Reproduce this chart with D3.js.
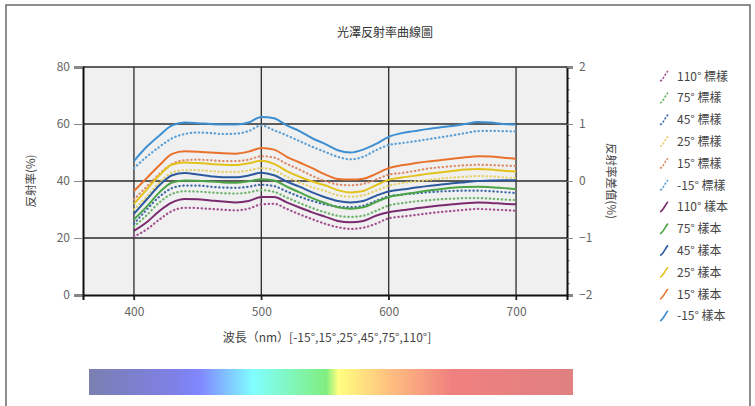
<!DOCTYPE html>
<html>
<head>
<meta charset="utf-8">
<script src="https://cdn.jsdelivr.net/npm/d3@7"></script>
<style>
  body { margin: 0; background: #fff; }
  text { font-family: "Noto Sans CJK TC", "Noto Sans", sans-serif; }
</style>
</head>
<body>
<svg id="chart" width="755" height="406"></svg>
<script>
// Wavelength samples (nm)
const wavelengths = [400,410,420,430,440,450,460,470,480,490,500,510,520,530,540,550,560,570,580,590,600,610,620,630,640,650,660,670,680,690,700];

// Reflectance (%) of the standard (標樣) at each measuring angle
const std_110 = [20.5,23,26.5,29.5,30.6,30.5,30.2,29.9,29.7,30.3,31.8,32,30.2,28.3,26.6,25,23.8,23.2,23.6,25,26.9,27.5,28,28.6,29.1,29.5,29.9,30.2,30,29.8,29.6];
const std_75  = [24,28,32.5,35.5,36.4,36.3,36,35.7,35.6,36,36.8,36.2,34.2,32.3,30.5,29,27.8,27.4,27.8,29.5,31.4,32.2,32.8,33.2,33.6,33.8,34,34,33.8,33.5,33.3];
const std_45  = [25,30,34.5,37.5,38.4,38.4,38,37.7,37.6,38,38.7,38.2,36.3,34.5,33,31.8,31,30.8,31.3,33,34.6,35.2,35.6,36,36.3,36.5,36.6,36.6,36.4,36.1,35.8];
const std_25  = [30,34.5,39.5,43,43.8,43.8,43.5,43.2,43.2,43.7,44.5,43.8,41.5,39.5,37.8,36.5,35,34.5,35,36.6,38.3,39.2,39.8,40.3,40.8,41.2,41.5,41.7,41.6,41.3,41];
const std_15  = [33.5,38,42.5,46,47.3,47.5,47.3,47,47,47.5,48.7,48.2,46,44,41.8,40,38.8,38.5,39,40.5,42.2,42.8,43.5,44.3,44.8,45.2,45.5,45.7,45.6,45.4,45.3];
const std_m15 = [44.5,48.5,52,55,56.5,57,56.8,56.5,56.6,57.5,59.5,57.8,56,54,52,50.2,48.5,47.6,48.5,50.8,52.6,53.3,53.9,54.6,55.3,56,56.8,57.5,57.6,57.5,57.4];

// Reflectance (%) of the sample (樣本) at each measuring angle
const smp_110 = [22.5,25.5,29.5,32.5,33.7,33.6,33.2,32.8,32.5,33,34.4,34.4,32.5,30.7,29,27.5,26,25.5,26,27.8,29,29.7,30.3,30.9,31.4,31.8,32.2,32.5,32.3,32,31.8];
const smp_75  = [26.5,31,36,39.5,40.2,40.1,39.8,39.5,39.4,39.9,40.6,40.2,38,36,34,32.3,30.8,30.3,30.8,32.6,34.4,35.2,35.9,36.6,37.1,37.6,37.9,38,37.8,37.5,37.2];
const smp_45  = [28.5,33.5,38.5,42,42.8,42.3,41.7,41.3,41.3,41.9,42.9,42,39.8,38,36,34.3,33,32.5,33,34.8,36.3,37,37.6,38.2,38.7,39.2,39.6,40,40.2,40.3,40.3];
const smp_25  = [32,37,42,45.8,46.5,46.3,46,45.7,45.6,46.2,47.1,46,43.5,41.5,39.8,38.5,36.8,36,36.5,38.5,40.4,41.2,41.8,42.5,43,43.5,44,44.2,44,43.6,43.3];
const smp_15  = [36.5,41,45.5,49.5,50.4,50.3,50,49.7,49.6,50.3,51.6,51,48.5,46.5,44.5,42.3,40.7,40.5,40.8,42.5,44.5,45.5,46.2,46.8,47.3,47.8,48.3,48.7,48.6,48.2,47.8];
const smp_m15 = [47,52,56,59.5,60.5,60.3,60,59.8,59.8,60.5,62.5,62,59.5,57.5,55,53,50.8,50,51,53,55.5,56.8,57.5,58.2,58.8,59.3,60,60.7,60.5,60,59.8];

// Legend labels, in legend order
const stdLabels = ["110° 標樣","75° 標樣","45° 標樣","25° 標樣","15° 標樣","-15° 標樣"];
const smpLabels = ["110° 樣本","75° 樣本","45° 樣本","25° 樣本","15° 樣本","-15° 樣本"];
const stdColors = ["#a4508f","#6cb36a","#3f6aa8","#e6d06a","#df8a66","#5a9fd6"];
const smpColors = ["#7a2a6e","#4da447","#2d5a9e","#e3c21c","#e8722c","#3d8fd1"];

// Axis ticks
const leftTicks = [0,20,40,60,80];
const rightTicks = [-2,-1,0,1,2];
const xTicks = [400,500,600,700];

// Spectrum strip colour stops
const spectrumOffsets = [0,0.18,0.23,0.34,0.44,0.49,0.515,0.62,0.75,1];
const spectrumColors = ["#7a7fb0","#7f80e8","#8088ff","#80ffff","#80f4a8","#80ee80","#ffff80","#ffc080","#f08080","#e08080"];

const svg = d3.select("#chart");
const L = 83, R = 567, T = 67, B = 295;

const x = d3.scaleLinear().domain([360, 740]).range([L, R]);
const y = d3.scaleLinear().domain([0, 80]).range([B, T]);
const y2 = d3.scaleLinear().domain([-2, 2]).range([B, T]);

// outer frame
svg.append("rect").attr("x", 6).attr("y", 5).attr("width", 744).attr("height", 420)
  .attr("fill", "none").attr("stroke", "#6a6a6a").attr("stroke-width", 1.5);

// title
svg.append("text").attr("x", 385).attr("y", 37).attr("text-anchor", "middle")
  .attr("font-size", 12).attr("fill", "#333").text("光澤反射率曲線圖");

// plot background
svg.append("rect").attr("x", L).attr("y", T).attr("width", R - L).attr("height", B - T)
  .attr("fill", "#f0f0f0");

// grid
const grid = svg.append("g").attr("stroke", "#2a2a2a").attr("stroke-width", 1.3);
grid.selectAll("line.v").data(xTicks).join("line").attr("class", "v")
  .attr("x1", d => x(d)).attr("x2", d => x(d)).attr("y1", T).attr("y2", B + 5);
grid.selectAll("line.h").data([20, 40, 60]).join("line").attr("class", "h")
  .attr("x1", L).attr("x2", R).attr("y1", d => y(d)).attr("y2", d => y(d));
grid.append("line").attr("x1", L).attr("x2", R).attr("y1", T).attr("y2", T);

const tickFont = sel => sel.selectAll("text").attr("font-size", 12).attr("fill", "#666")
  .attr("font-family", "'Noto Sans', sans-serif");

// left axis
const leftAxis = svg.append("g").attr("transform", `translate(${L},0)`)
  .call(d3.axisLeft(y).tickValues(leftTicks).tickSize(9).tickPadding(4));
leftAxis.select(".domain").attr("stroke", "#111").attr("stroke-width", 2);
leftAxis.selectAll(".tick line").attr("stroke", "#888");
tickFont(leftAxis);

// right axis with minor ticks
const minorRight = [-1.8,-1.6,-1.4,-1.2,-0.8,-0.6,-0.4,-0.2,0.2,0.4,0.6,0.8,1.2,1.4,1.6,1.8];
svg.append("g").attr("transform", `translate(${R},0)`)
  .selectAll("line").data(minorRight).join("line")
  .attr("x1", 0).attr("x2", 3).attr("y1", d => y2(d)).attr("y2", d => y2(d))
  .attr("stroke", "#888");
const rightAxis = svg.append("g").attr("transform", `translate(${R},0)`)
  .call(d3.axisRight(y2).tickValues(rightTicks).tickFormat(d3.format("d")).tickSize(6).tickPadding(6));
rightAxis.select(".domain").attr("stroke", "#111").attr("stroke-width", 2);
rightAxis.selectAll(".tick line").attr("stroke", "#888");
tickFont(rightAxis);

// bottom axis
const bottomAxis = svg.append("g").attr("transform", `translate(0,${B})`)
  .call(d3.axisBottom(x).tickValues(xTicks).tickSize(5).tickPadding(7));
bottomAxis.select(".domain").attr("stroke", "#111").attr("stroke-width", 2);
bottomAxis.selectAll(".tick line").attr("stroke", "#222").attr("stroke-width", 1.3);
tickFont(bottomAxis);

// axis titles
svg.append("text").attr("transform", `translate(35,${(T + B) / 2}) rotate(-90)`)
  .attr("text-anchor", "middle").attr("font-size", 11.5).attr("fill", "#444").text("反射率(%)");
svg.append("text").attr("transform", `translate(607,${(T + B) / 2}) rotate(90)`)
  .attr("text-anchor", "middle").attr("font-size", 11.5).attr("fill", "#444").text("反射率差值(%)");
svg.append("text").attr("x", 327).attr("y", 342).attr("text-anchor", "middle")
  .attr("font-size", 12).attr("fill", "#444").text("波長（nm）[-15°,15°,25°,45°,75°,110°]");

// series
const stdSeries = [std_110, std_75, std_45, std_25, std_15, std_m15];
const smpSeries = [smp_110, smp_75, smp_45, smp_25, smp_15, smp_m15];
const line = d3.line().x((d, i) => x(wavelengths[i])).y(d => y(d)).curve(d3.curveMonotoneX);

const plot = svg.append("g");
plot.selectAll("path.std").data(stdSeries).join("path").attr("class", "std")
  .attr("d", line).attr("fill", "none")
  .attr("stroke", (d, i) => stdColors[i]).attr("stroke-width", 2.2)
  .attr("stroke-linecap", "round").attr("stroke-dasharray", "0.4 3.6");
plot.selectAll("path.smp").data(smpSeries).join("path").attr("class", "smp")
  .attr("d", line).attr("fill", "none")
  .attr("stroke", (d, i) => smpColors[i]).attr("stroke-width", 2);

// legend
const legendItems = stdLabels.map((t, i) => ({ label: t, color: stdColors[i], std: true }))
  .concat(smpLabels.map((t, i) => ({ label: t, color: smpColors[i], std: false })));
const lg = svg.append("g").selectAll("g").data(legendItems).join("g")
  .attr("transform", (d, i) => `translate(660,${76 + i * 21.8})`);
lg.append("path").attr("d", "M0,5 C3,4.5 5,-2 8,-5")
  .attr("fill", "none").attr("stroke", d => d.color).attr("stroke-width", 1.6)
  .attr("stroke-dasharray", d => d.std ? "2.2 1.4" : null);
lg.append("text").attr("x", 17).attr("y", 4.5).attr("font-size", 12).attr("fill", "#444")
  .text(d => d.label);

// spectrum strip
const grad = svg.append("defs").append("linearGradient").attr("id", "spectrum")
  .attr("x1", "0%").attr("x2", "100%").attr("y1", "0%").attr("y2", "0%");
grad.selectAll("stop").data(spectrumOffsets).join("stop")
  .attr("offset", d => d).attr("stop-color", (d, i) => spectrumColors[i]);
svg.append("rect").attr("x", 89).attr("y", 369).attr("width", 484).attr("height", 26)
  .attr("fill", "url(#spectrum)");
</script>
</body>
</html>
